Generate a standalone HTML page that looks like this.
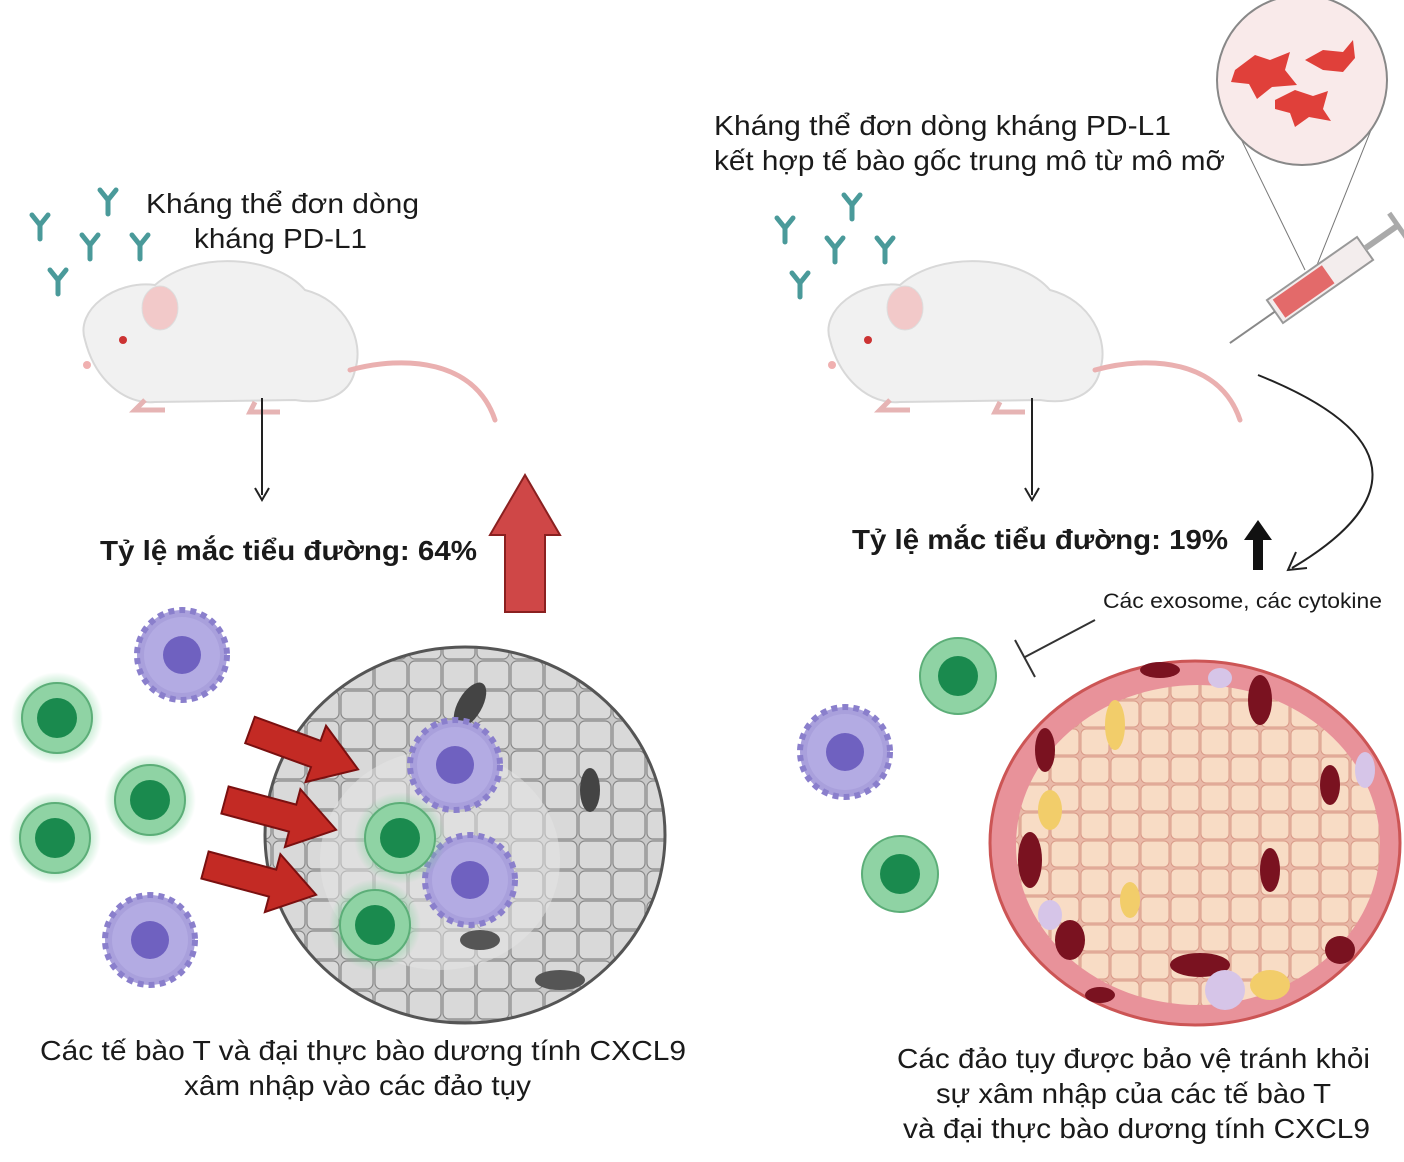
<!DOCTYPE html>
<html><head><meta charset="utf-8"><style>
html,body{margin:0;padding:0;background:#fff}
svg{display:block}
text{font-family:"Liberation Sans",sans-serif;fill:#1a1a1a}
</style></head><body>
<svg width="1404" height="1162" viewBox="0 0 1404 1162" xmlns="http://www.w3.org/2000/svg">
<defs>
<g id="ab"><path d="M0 0 L0 14 M0 0 L-8 -10 M0 0 L8 -10" stroke="#4a9a9a" stroke-width="5" fill="none" stroke-linecap="round"/></g>
<g id="mouse">
<path d="M10 300 C0 270 40 240 80 245 C120 210 200 215 230 250 C270 260 290 300 280 330 C275 355 250 365 220 360 L80 362 C50 365 20 340 10 300 Z" fill="#f1f1f1" stroke="#d8d8d8" stroke-width="2"/>
<ellipse cx="85" cy="268" rx="18" ry="22" fill="#f2c9c9" stroke="#ddd"/>
<circle cx="48" cy="300" r="4" fill="#c33"/>
<circle cx="12" cy="325" r="4" fill="#f0b0b0"/>
<path d="M275 330 C330 315 400 320 420 380" stroke="#eab0b0" stroke-width="5" fill="none" stroke-linecap="round"/>
<path d="M70 360 l-10 10 h30 M180 362 l-5 10 h30" stroke="#e6b4b4" stroke-width="5" fill="none"/>
</g>
<pattern id="gcell" width="34" height="30" patternUnits="userSpaceOnUse">
<rect width="34" height="30" fill="#c8c8c8"/><rect x="1" y="1" width="32" height="28" rx="6" fill="#d9d9d9" stroke="#888" stroke-width="1.2"/>
</pattern>
<pattern id="pcell" width="30" height="28" patternUnits="userSpaceOnUse">
<rect width="30" height="28" fill="#e9b9a8"/><rect x="1" y="1" width="28" height="26" rx="5" fill="#f8dcc5" stroke="#d99a88" stroke-width="1"/>
</pattern>
<radialGradient id="glow"><stop offset="0.6" stop-color="#6fcf8f" stop-opacity="0.6"/><stop offset="1" stop-color="#6fcf8f" stop-opacity="0"/></radialGradient>
<g id="tcell"><circle r="46" fill="url(#glow)"/><circle r="35" fill="#8fd3a4" stroke="#5cae78" stroke-width="2"/><circle r="20" fill="#1a8a4e"/></g>
<g id="tcell2"><circle r="38" fill="#8fd3a4" stroke="#5cae78" stroke-width="2"/><circle r="20" fill="#1a8a4e"/></g>
<g id="mac"><circle r="45" fill="#a9a0dc" stroke="#8a7fcc" stroke-width="6" stroke-dasharray="6 5"/><circle r="38" fill="#b3abe3"/><circle r="19" fill="#6f61c0"/></g>
<g id="rarrow"><path d="M0 -14 L70 -14 L70 -30 L115 0 L70 30 L70 14 L0 14 Z" fill="#c32a24" stroke="#7a1010" stroke-width="2"/></g>
</defs>

<!-- LEFT -->
<use href="#ab" x="40" y="225"/><use href="#ab" x="108" y="200"/><use href="#ab" x="90" y="245"/><use href="#ab" x="140" y="245"/><use href="#ab" x="58" y="280"/>
<text x="146" y="213" font-size="28" textLength="273" lengthAdjust="spacingAndGlyphs">Kháng thể đơn dòng</text>
<text x="194" y="248" font-size="28" textLength="173" lengthAdjust="spacingAndGlyphs">kháng PD-L1</text>
<use href="#mouse" x="75" y="40"/>
<line x1="262" y1="398" x2="262" y2="495" stroke="#222" stroke-width="2"/>
<path d="M255 488 L262 500 L269 488" stroke="#222" stroke-width="2" fill="none"/>
<text x="100" y="560" font-size="28" font-weight="bold" textLength="377" lengthAdjust="spacingAndGlyphs">Tỷ lệ mắc tiểu đường: 64%</text>
<path d="M505 612 L505 535 L490 535 L525 475 L560 535 L545 535 L545 612 Z" fill="#cf4747" stroke="#8a2020" stroke-width="2"/>

<ellipse cx="465" cy="835" rx="200" ry="188" fill="url(#gcell)" stroke="#555" stroke-width="3"/>
<ellipse cx="440" cy="860" rx="120" ry="110" fill="#e6e6e6" opacity="0.5"/>
<ellipse cx="470" cy="705" rx="12" ry="25" fill="#444" transform="rotate(30 470 705)"/>
<ellipse cx="590" cy="790" rx="10" ry="22" fill="#444"/>
<ellipse cx="560" cy="980" rx="25" ry="10" fill="#555"/>
<ellipse cx="480" cy="940" rx="20" ry="10" fill="#555"/>
<use href="#mac" x="455" y="765"/><use href="#mac" x="470" y="880"/>
<use href="#tcell" x="400" y="838"/><use href="#tcell" x="375" y="925"/>
<use href="#rarrow" transform="translate(250 730) rotate(20)"/>
<use href="#rarrow" transform="translate(225 800) rotate(15)"/>
<use href="#rarrow" transform="translate(205 865) rotate(15)"/>
<use href="#mac" x="182" y="655"/>
<use href="#mac" x="150" y="940"/>
<use href="#tcell" x="57" y="718"/><use href="#tcell" x="150" y="800"/><use href="#tcell" x="55" y="838"/>
<text x="40" y="1060" font-size="28" textLength="646" lengthAdjust="spacingAndGlyphs">Các tế bào T và đại thực bào dương tính CXCL9</text>
<text x="184" y="1095" font-size="28" textLength="347" lengthAdjust="spacingAndGlyphs">xâm nhập vào các đảo tụy</text>

<!-- RIGHT -->
<text x="714" y="135" font-size="28" textLength="457" lengthAdjust="spacingAndGlyphs">Kháng thể đơn dòng kháng PD-L1</text>
<text x="714" y="170" font-size="28" textLength="511" lengthAdjust="spacingAndGlyphs">kết hợp tế bào gốc trung mô từ mô mỡ</text>
<line x1="1222" y1="100" x2="1305" y2="270" stroke="#777" stroke-width="1"/>
<line x1="1385" y1="95" x2="1315" y2="270" stroke="#777" stroke-width="1"/>
<circle cx="1302" cy="80" r="85" fill="#f9eaea" stroke="#888" stroke-width="2"/>
<g fill="#e0403a">
<path d="M1235 70 l20 -15 l15 5 l20 -8 l-5 18 l12 15 l-25 2 l-15 12 l-8 -15 l-18 -2 z"/>
<path d="M1305 60 l18 -10 l20 2 l10 -12 l2 18 l-12 14 l-20 -2 z"/>
<path d="M1275 100 l20 -10 l18 6 l15 -5 l-5 18 l8 12 l-22 -4 l-14 10 l-5 -14 l-15 -4 z"/>
</g>
<g transform="translate(1320 280) rotate(-35)">
<rect x="-55" y="-14" width="110" height="28" fill="#f3eded" stroke="#999" stroke-width="2"/>
<rect x="-50" y="-11" width="60" height="22" fill="#e36a6a"/>
<line x1="-55" y1="0" x2="-110" y2="0" stroke="#888" stroke-width="2"/>
<line x1="55" y1="0" x2="95" y2="0" stroke="#aaa" stroke-width="6"/>
<line x1="95" y1="-15" x2="95" y2="15" stroke="#aaa" stroke-width="5"/>
</g>
<use href="#ab" x="785" y="228"/><use href="#ab" x="852" y="205"/><use href="#ab" x="835" y="248"/><use href="#ab" x="885" y="248"/><use href="#ab" x="800" y="283"/>
<use href="#mouse" x="820" y="40"/>
<line x1="1032" y1="398" x2="1032" y2="495" stroke="#222" stroke-width="2"/>
<path d="M1025 488 L1032 500 L1039 488" stroke="#222" stroke-width="2" fill="none"/>
<text x="852" y="549" font-size="28" font-weight="bold" textLength="376" lengthAdjust="spacingAndGlyphs">Tỷ lệ mắc tiểu đường: 19%</text>
<path d="M1253 570 L1253 540 L1244 540 L1258 520 L1272 540 L1263 540 L1263 570 Z" fill="#111"/>
<path d="M1258 375 C1420 440 1390 510 1292 568" stroke="#222" stroke-width="2" fill="none"/>
<path d="M1296 552 L1288 570 L1307 568" stroke="#222" stroke-width="2" fill="none"/>
<text x="1103" y="608" font-size="21" textLength="279" lengthAdjust="spacingAndGlyphs">Các exosome, các cytokine</text>
<line x1="1095" y1="620" x2="1025" y2="657" stroke="#333" stroke-width="2"/>
<line x1="1015" y1="640" x2="1035" y2="677" stroke="#333" stroke-width="2"/>
<use href="#tcell2" x="958" y="676"/><use href="#tcell2" x="900" y="874"/>
<use href="#mac" x="845" y="752"/>
<ellipse cx="1195" cy="843" rx="205" ry="182" fill="#e8929a" stroke="#c55" stroke-width="3"/>
<ellipse cx="1198" cy="845" rx="182" ry="160" fill="url(#pcell)"/>
<g fill="#7a1220">
<ellipse cx="1045" cy="750" rx="10" ry="22"/><ellipse cx="1160" cy="670" rx="20" ry="8"/><ellipse cx="1260" cy="700" rx="12" ry="25"/>
<ellipse cx="1330" cy="785" rx="10" ry="20"/><ellipse cx="1030" cy="860" rx="12" ry="28"/><ellipse cx="1070" cy="940" rx="15" ry="20"/>
<ellipse cx="1200" cy="965" rx="30" ry="12"/><ellipse cx="1270" cy="870" rx="10" ry="22"/><ellipse cx="1340" cy="950" rx="15" ry="14"/><ellipse cx="1100" cy="995" rx="15" ry="8"/>
</g>
<g fill="#f2cd6a"><ellipse cx="1115" cy="725" rx="10" ry="25"/><ellipse cx="1050" cy="810" rx="12" ry="20"/><ellipse cx="1130" cy="900" rx="10" ry="18"/><ellipse cx="1270" cy="985" rx="20" ry="15"/></g>
<g fill="#d6c5e8"><ellipse cx="1050" cy="915" rx="12" ry="15"/><ellipse cx="1225" cy="990" rx="20" ry="20"/><ellipse cx="1365" cy="770" rx="10" ry="18"/><ellipse cx="1220" cy="678" rx="12" ry="10"/></g>
<text x="897" y="1068" font-size="28" textLength="473" lengthAdjust="spacingAndGlyphs">Các đảo tụy được bảo vệ tránh khỏi</text>
<text x="936" y="1103" font-size="28" textLength="395" lengthAdjust="spacingAndGlyphs">sự xâm nhập của các tế bào T</text>
<text x="903" y="1138" font-size="28" textLength="467" lengthAdjust="spacingAndGlyphs">và đại thực bào dương tính CXCL9</text>
</svg>
</body></html>
